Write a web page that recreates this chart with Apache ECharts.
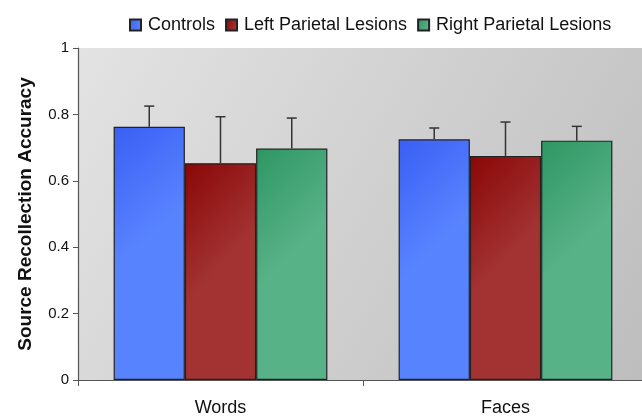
<!DOCTYPE html>
<html>
<head>
<meta charset="utf-8">
<script src="https://cdn.jsdelivr.net/npm/echarts@6/dist/echarts.min.js"></script>
<style>
  html, body { margin: 0; padding: 0; background: #fff; }
  #main { width: 642px; height: 417px; }
</style>
</head>
<body>
<div id="main"></div>
<script>
// values
var categories = ['Words', 'Faces'];
var seriesNames = ['Controls', 'Left Parietal Lesions', 'Right Parietal Lesions'];
var controls = [0.763, 0.725];
var controlsErr = [0.062, 0.034];
var leftLesions = [0.653, 0.675];
var leftLesionsErr = [0.140, 0.102];
var rightLesions = [0.697, 0.721];
var rightLesionsErr = [0.092, 0.043];

var FONT = '"Liberation Sans", Arial, sans-serif';
var GAP = 0.25; // category gap fraction

var myChart = echarts.init(document.getElementById('main'));

function grad(c1, c2) {
    return new echarts.graphic.LinearGradient(0, 0, 1, 0.3, [
        { offset: 0, color: c1 },
        { offset: 1, color: c2 }
    ]);
}

var colors = [
    grad('#3a5ff4', '#5883ff'),
    grad('#8a0606', '#a33333'),
    grad('#2e9663', '#58b287')
];

function barSeries(name, vals, idx) {
    return {
        name: name,
        type: 'bar',
        data: vals,
        barGap: 0,
        barCategoryGap: (GAP * 100) + '%',
        itemStyle: {
            color: colors[idx],
            borderColor: '#222',
            borderWidth: 1.2
        },
        z: 2
    };
}

// error bar (upper whisker only) drawn on top of each bar
function errSeries(vals, errs, idx) {
    var data = [];
    for (var i = 0; i < vals.length; i++) {
        data.push([i, vals[i], errs[i]]);
    }
    return {
        type: 'custom',
        data: data,
        z: 5,
        silent: true,
        encode: { x: 0, y: 1 },
        renderItem: function (params, api) {
            var cat = api.value(0);
            var v = api.value(1);
            var e = api.value(2);
            var base = api.coord([cat, v]);
            var top = api.coord([cat, v + e]);
            var bw = api.size([1, 0])[0] * (1 - GAP) / 3;
            var x = base[0] + (idx - 1) * bw;
            var style = { stroke: '#333', lineWidth: 1.5 };
            return {
                type: 'group',
                children: [
                    { type: 'line', shape: { x1: x, y1: base[1], x2: x, y2: top[1] }, style: style },
                    { type: 'line', shape: { x1: x - 5, y1: top[1], x2: x + 5, y2: top[1] }, style: style }
                ]
            };
        }
    };
}

option = {
    backgroundColor: '#fff',
    animation: false,
    textStyle: { fontFamily: FONT },
    legend: {
        data: seriesNames,
        top: 11,
        left: 124,
        itemWidth: 11,
        itemHeight: 11,
        itemGap: 10,
        icon: 'rect',
        textStyle: { fontSize: 18, color: '#111', fontFamily: FONT, padding: [0, 0, 0, 2] }
    },
    grid: {
        left: 78,
        top: 48,
        width: 570,
        height: 332,
        outerBoundsMode: 'none',
        show: true,
        borderWidth: 0,
        backgroundColor: new echarts.graphic.LinearGradient(0, 0, 1, 1, [
            { offset: 0, color: '#e3e3e3' },
            { offset: 1, color: '#bdbdbd' }
        ])
    },
    xAxis: {
        type: 'category',
        data: categories,
        boundaryGap: true,
        axisLine: { lineStyle: { color: '#555', width: 1.2 } },
        axisTick: { show: true, length: 6, lineStyle: { color: '#555' } },
        axisLabel: { fontSize: 18, color: '#111', margin: 19, fontFamily: FONT },
        splitLine: { show: false }
    },
    yAxis: {
        type: 'value',
        min: 0,
        max: 1,
        interval: 0.2,
        name: 'Source Recollection Accuracy',
        nameLocation: 'middle',
        nameGap: 43,
        nameTextStyle: { fontSize: 19, fontWeight: 'bold', color: '#111', fontFamily: FONT },
        axisLine: { show: true, lineStyle: { color: '#555', width: 1.2 } },
        axisTick: { show: true, length: 5, lineStyle: { color: '#555' } },
        axisLabel: { fontSize: 15, color: '#111', margin: 9, fontFamily: FONT },
        splitLine: { show: false }
    },
    series: [
        barSeries(seriesNames[0], controls, 0),
        barSeries(seriesNames[1], leftLesions, 1),
        barSeries(seriesNames[2], rightLesions, 2),
        errSeries(controls, controlsErr, 0),
        errSeries(leftLesions, leftLesionsErr, 1),
        errSeries(rightLesions, rightLesionsErr, 2)
    ]
};
myChart.setOption(option);
</script>
</body>
</html>
